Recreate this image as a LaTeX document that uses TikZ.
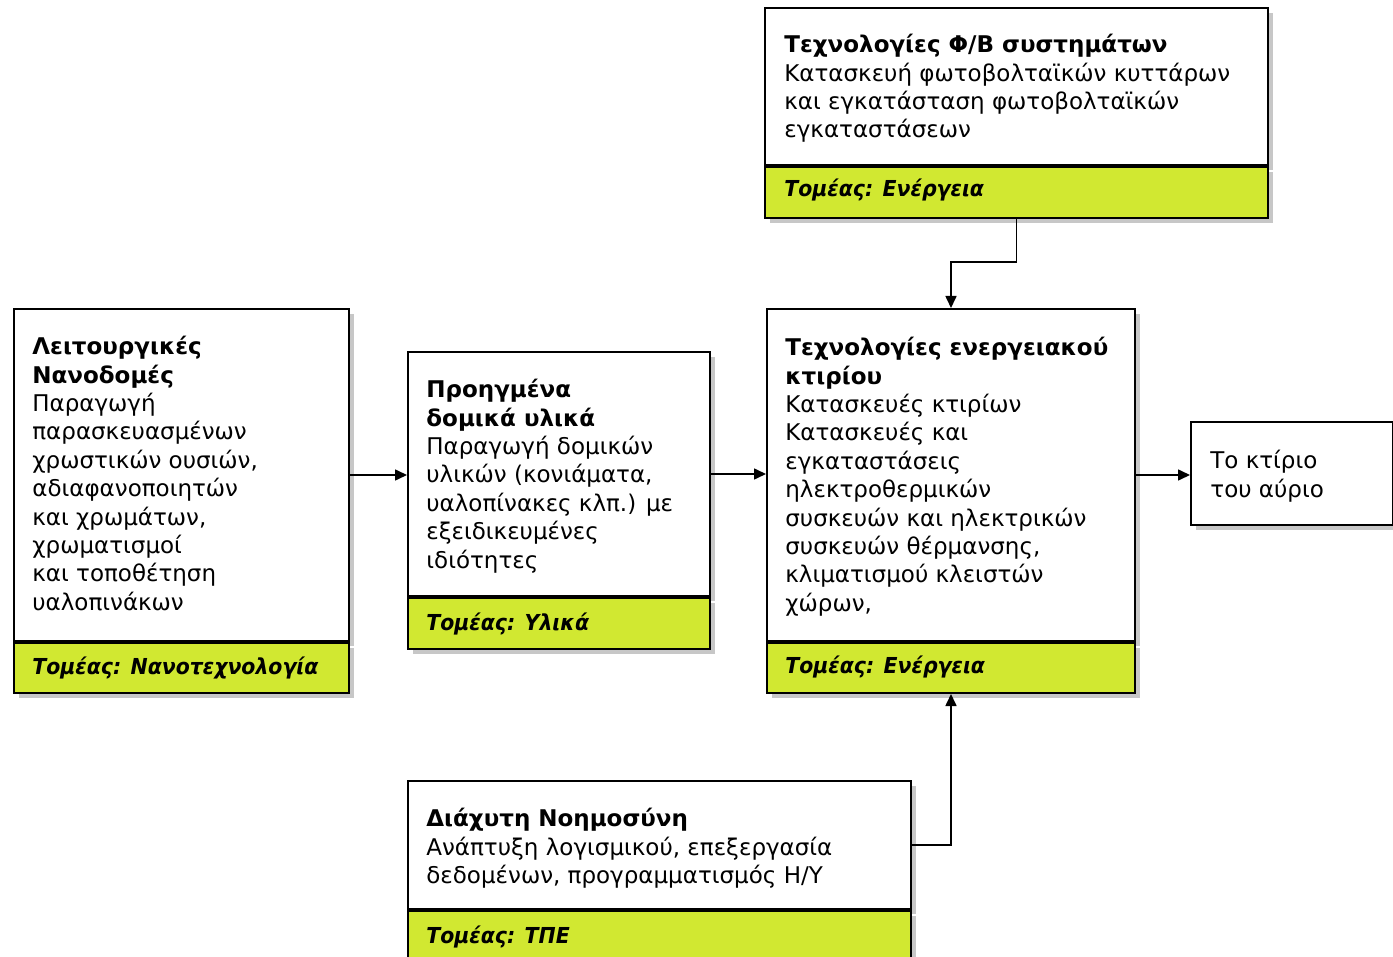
\documentclass[tikz,border=0pt]{standalone}
\usepackage{fontspec}
\setmainfont{DejaVu Sans}[BoldFont={DejaVu Sans Bold},ItalicFont={DejaVu Sans Oblique},BoldItalicFont={DejaVu Sans Bold Oblique}]
\newfontfamily\sectorfont{DejaVu Sans Bold Oblique}[FakeStretch=0.93]
\usetikzlibrary{arrows.meta,shadows}
\definecolor{sectorgreen}{HTML}{D1E831}
\tikzset{
  panel/.style={draw=black, line width=1pt, fill=white, anchor=north west, inner sep=0pt,
    drop shadow={shadow xshift=2.5pt, shadow yshift=-2.5pt, fill=black!22, opacity=1}},
  bar/.style={panel, fill=sectorgreen},
  body/.style={anchor=north west, inner sep=0pt, align=left,
    font=\fontsize{11.5}{14.2}\selectfont, execute at begin node=\strut},
  sector/.style={anchor=base west, inner sep=0pt, font=\fontsize{11}{14.2}\sectorfont},
  link/.style={line width=0.8pt, -{Triangle[length=6pt,width=5.5pt]}}
}
\begin{document}
\begin{tikzpicture}[x=0.5pt,y=-0.5pt]
\useasboundingbox (0,0) rectangle (1393,957);
\clip (0,0) rectangle (1393,957);

% PV systems
\node[panel, minimum width=251.5pt, minimum height=78.5pt] (pv) at (764,7) {};
\node[bar, minimum width=251.5pt, minimum height=25.5pt] (pvbar) at (pv.south west) {};
\node[body] (pvtext) at (784,34) {\textbf{Τεχνολογίες Φ/Β συστημάτων}\\Κατασκευή φωτοβολταϊκών κυττάρων\\και εγκατάσταση φωτοβολταϊκών\\εγκαταστάσεων};
\node[sector] (pvsec) at (784,197) {Τομέας: Ενέργεια};

% nanostructures
\node[panel, minimum width=167.5pt, minimum height=166pt] (nano) at (13,308) {};
\node[bar, minimum width=167.5pt, minimum height=25pt] (nanobar) at (nano.south west) {};
\node[body] (nanotext) at (32,336) {\textbf{Λειτουργικές}\\\textbf{Νανοδομές}\\Παραγωγή\\παρασκευασμένων\\χρωστικών ουσιών,\\αδιαφανοποιητών\\και χρωμάτων,\\χρωματισμοί\\και τοποθέτηση\\υαλοπινάκων};
\node[sector] (nanosec) at (32,674) {Τομέας: Νανοτεχνολογία};

% advanced materials
\node[panel, minimum width=151pt, minimum height=122pt] (mat) at (407,351) {};
\node[bar, minimum width=151pt, minimum height=25.5pt] (matbar) at (mat.south west) {};
\node[body] (mattext) at (426,379) {\textbf{Προηγμένα}\\\textbf{δομικά υλικά}\\Παραγωγή δομικών\\υλικών (κονιάματα,\\υαλοπίνακες κλπ.) με\\εξειδικευμένες\\ιδιότητες};
\node[sector] (matsec) at (426,630) {Τομέας: Υλικά};

% energy building
\node[panel, minimum width=184pt, minimum height=166pt] (bld) at (766,308) {};
\node[bar, minimum width=184pt, minimum height=25pt] (bldbar) at (bld.south west) {};
\node[body] (bldtext) at (785,337) {\textbf{Τεχνολογίες ενεργειακού}\\\textbf{κτιρίου}\\Κατασκευές κτιρίων\\Κατασκευές και\\εγκαταστάσεις\\ηλεκτροθερμικών\\συσκευών και ηλεκτρικών\\συσκευών θέρμανσης,\\κλιματισμού κλειστών\\χώρων,};
\node[sector] (bldsec) at (785,673) {Τομέας: Ενέργεια};

% building of tomorrow
\node[panel, minimum width=101pt, minimum height=51.5pt] (tom) at (1190,421) {};
\node[body] (tomtext) at (1210,450) {Το κτίριο\\του αύριο};

% ambient intelligence
\node[panel, minimum width=251.5pt, minimum height=64pt] (ai) at (407,780) {};
\node[bar, minimum width=251.5pt, minimum height=25.5pt] (aibar) at (ai.south west) {};
\node[body] (aitext) at (426,808) {\textbf{Διάχυτη Νοημοσύνη}\\Ανάπτυξη λογισμικού, επεξεργασία\\δεδομένων, προγραμματισμός Η/Υ};
\node[sector] (aisec) at (426,943) {Τομέας: ΤΠΕ};

% connectors
\draw[link] (pvbar.south) -- (pvbar.south |- 0,262) -| (bld.north);
\draw[link] (nano.east) -- (nano.east -| mat.west);
\draw[link] (mat.east) -- (mat.east -| bld.west);
\draw[link] (bld.east) -- (bld.east -| tom.west);
\draw[link] (ai.east) -| (bldbar.south);
\end{tikzpicture}
\end{document}
